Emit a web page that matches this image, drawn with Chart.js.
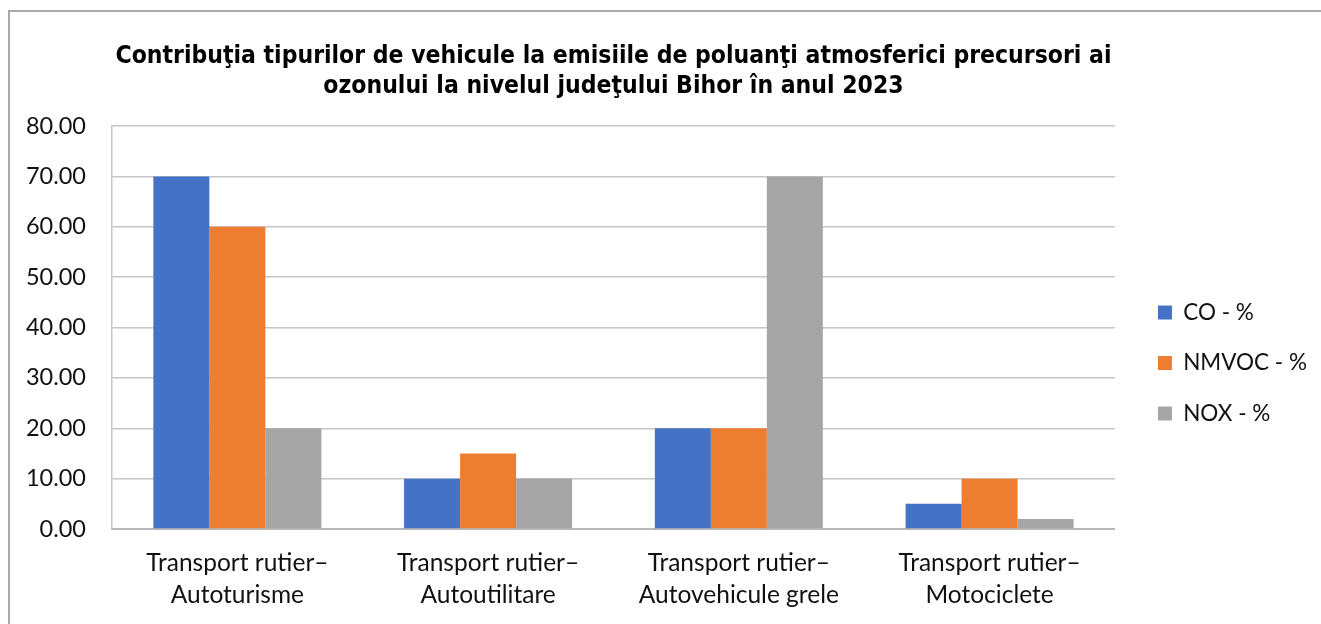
<!DOCTYPE html>
<html>
<head>
<meta charset="utf-8">
<script src="https://cdn.jsdelivr.net/npm/chart.js@4"></script>
<style>
  html, body { margin: 0; padding: 0; background: #fff; overflow: hidden; }
  #wrap { position: absolute; left: 0; top: 0; width: 1321px; height: 624px; }
</style>
</head>
<body>
<div id="wrap"><canvas id="grafico"></canvas></div>
<script>
const categorii = [
  ['Transport rutier–', 'Autoturisme'],
  ['Transport rutier–', 'Autoutilitare'],
  ['Transport rutier–', 'Autovehicule grele'],
  ['Transport rutier–', 'Motociclete']
]
const serii = ['CO - %', 'NMVOC - %', 'NOX - %']
const valoriCO = [70, 10, 20, 5]
const valoriNMVOC = [60, 15, 20, 10]
const valoriNOX = [20, 10, 70, 2]
const culori = ['#4472C4', '#ED7D31', '#A5A5A5']
const titlu = [
  'Contribuţia tipurilor de vehicule la emisiile de poluanţi atmosferici precursori ai',
  'ozonului la nivelul judeţului Bihor în anul 2023'
]

const font = 'Lato, Carlito, Calibri, sans-serif'
const fontTitlu = '"DejaVu Sans Condensed", "DejaVu Sans", sans-serif'
const marimeLegenda = 22.5
const padLegenda = 28

// latimea naturala a legendei, ca sa pun legenda la x ~ 1130
const mctx = document.createElement('canvas').getContext('2d')
mctx.font = marimeLegenda + 'px ' + font
const latText = Math.max(...serii.map(s => mctx.measureText(s).width))
const latLegenda = padLegenda + 14 + marimeLegenda / 2 + latText + 10
const padDreapta = Math.max(0, Math.round(1321 - 1130 - latLegenda))

// rama gri din stanga/sus
const rama = {
  id: 'rama',
  beforeDraw(chart) {
    const c = chart.ctx
    c.save()
    c.strokeStyle = '#a9a9a9'
    c.lineWidth = 2
    c.beginPath()
    c.moveTo(9, 700)
    c.lineTo(9, 11)
    c.lineTo(1400, 11)
    c.stroke()
    c.restore()
  }
}

const ctx = document.getElementById('grafico')

let grafico = new Chart(ctx, {
  type: 'bar',
  data: {
    labels: categorii,
    datasets: [
      { label: serii[0], data: valoriCO, backgroundColor: culori[0] },
      { label: serii[1], data: valoriNMVOC, backgroundColor: culori[1] },
      { label: serii[2], data: valoriNOX, backgroundColor: culori[2] }
    ]
  },
  plugins: [rama],
  options: {
    responsive: true,
    maintainAspectRatio: false,
    animation: false,
    datasets: {
      bar: { categoryPercentage: 0.67, barPercentage: 1 }
    },
    layout: { padding: { left: 0, top: 12, right: padDreapta, bottom: 0 } },
    plugins: {
      tooltip: { enabled: false },
      title: {
        display: true,
        fullSize: false,
        text: titlu,
        color: '#000',
        font: { family: fontTitlu, size: 24.5, weight: 'bold', lineHeight: '30px' },
        padding: { top: 30, bottom: 24 }
      },
      legend: {
        position: 'right',
        fullSize: false,
        align: 'center',
        title: { display: true, text: '', font: { size: 12, lineHeight: 1 }, padding: { top: 59, bottom: 0 } },
        labels: {
          boxWidth: 14,
          boxHeight: 14,
          padding: padLegenda,
          color: '#111',
          font: { family: font, size: marimeLegenda }
        }
      }
    },
    scales: {
      x: {
        grid: { display: false, drawTicks: false },
        border: { display: true, color: '#b8b8b8', width: 2 },
        ticks: {
          color: '#111',
          padding: 18,
          maxRotation: 0,
          font: { family: font, size: 24.5, lineHeight: '32px' }
        },
        afterFit(s) { s.height = 95 }
      },
      y: {
        min: 0,
        max: 80,
        grid: { color: '#c6c6c6', lineWidth: 1.5, drawTicks: false },
        border: { display: true, color: '#c6c6c6', width: 1.5 },
        ticks: {
          stepSize: 10,
          padding: 26,
          color: '#111',
          font: { family: font, size: 23.5 },
          callback: v => Number(v).toFixed(2)
        },
        afterFit(s) { s.width = 112 }
      },
      spatiu: {
        type: 'linear',
        position: 'right',
        display: true,
        grid: { display: false, drawTicks: false },
        border: { display: false },
        ticks: { display: false },
        afterFit(s) { s.width = 15 }
      }
    }
  }
})
</script>
</body>
</html>
